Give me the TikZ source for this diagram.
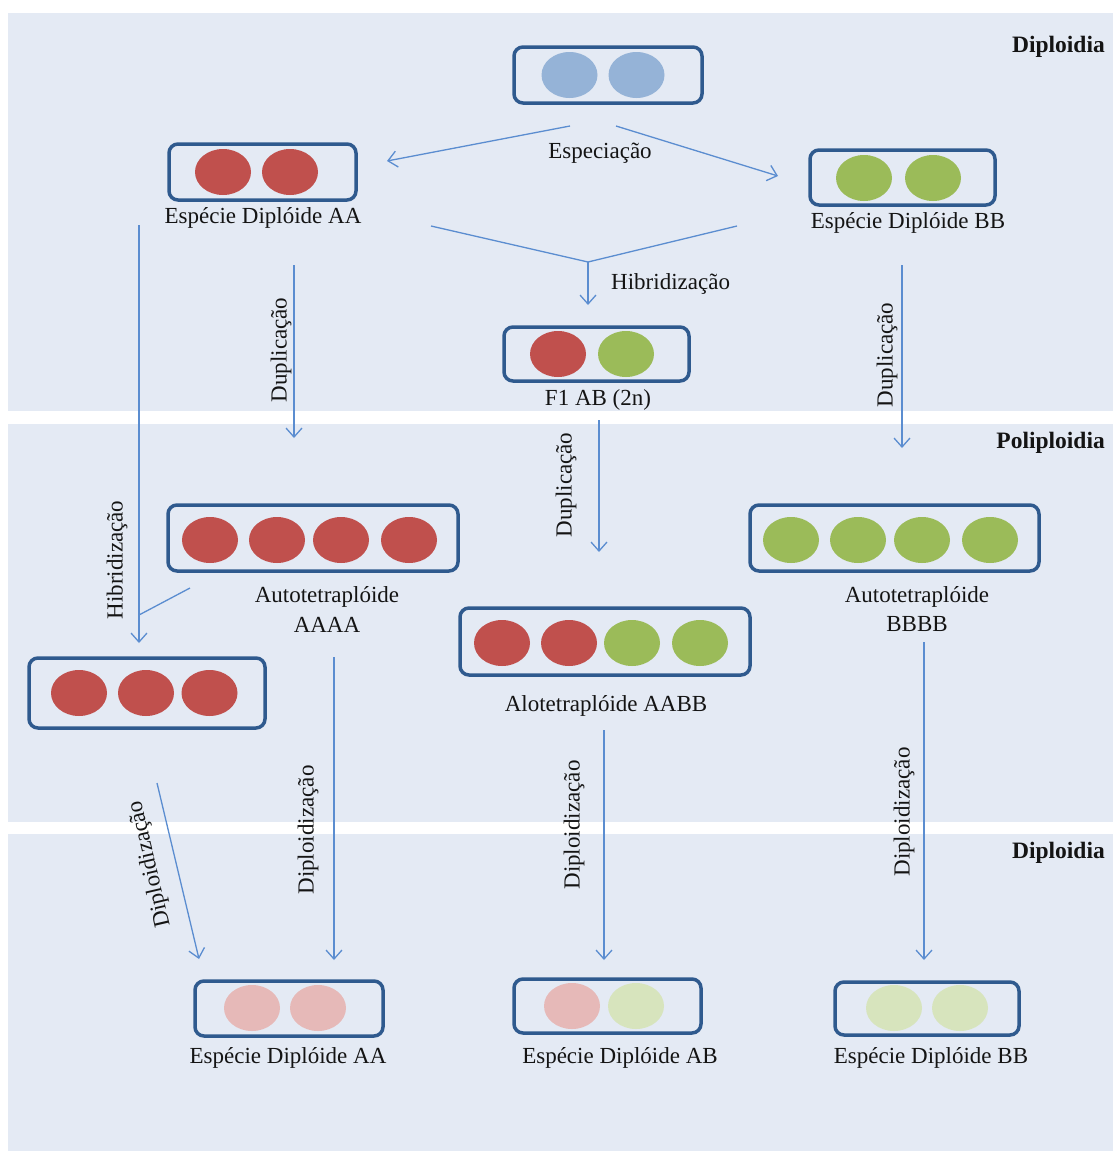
\documentclass[tikz,border=0pt]{standalone}
\usepackage{fontspec}
\setmainfont{Liberation Serif}
\usetikzlibrary{arrows.meta,shapes.geometric}
\definecolor{bandbg}{HTML}{E4EAF4}
\definecolor{boxline}{HTML}{2F5A8E}
\definecolor{arr}{HTML}{5B8DD0}
\definecolor{cred}{HTML}{C0504D}
\definecolor{cgreen}{HTML}{9BBB59}
\definecolor{cblue}{HTML}{95B3D7}
\definecolor{cpink}{HTML}{E6B9B8}
\definecolor{clgreen}{HTML}{D7E4BD}
\definecolor{txt}{HTML}{141414}
\begin{document}
\begin{tikzpicture}[x=1pt,y=-1pt,
 cellbox/.style={draw=boxline, line width=3.5pt, rounded corners=9pt, inner sep=0pt},
 chrom/.style={ellipse, inner sep=0pt, minimum width=56pt, minimum height=46pt},
 lab/.style={font=\fontsize{23}{25}\selectfont, text=txt, inner sep=0pt},
 bandlab/.style={font=\fontsize{23.5}{25}\selectfont\bfseries, text=txt, inner sep=0pt, anchor=east},
 flow/.style={draw=arr, line width=1.3pt, -{Straight Barb[length=9pt,width=16pt,line width=1.3pt]}},
 plain/.style={draw=arr, line width=1.3pt}]

\fill[white] (0,0) rectangle (1113,1151);
\useasboundingbox (0,0) rectangle (1113,1151);
\fill[bandbg] (8,13) rectangle (1113,411);
\fill[bandbg] (8,424) rectangle (1113,822);
\fill[bandbg] (8,834) rectangle (1113,1151);

% band labels
\node[bandlab] (bl1) at (1105,47) {Diploidia};
\node[bandlab] (bl2) at (1105,443) {Poliploidia};
\node[bandlab] (bl3) at (1105,853) {Diploidia};

% boxes
\node[cellbox, minimum width=188pt, minimum height=56pt] (top) at (608,75) {};
\node[chrom, fill=cblue] (top1) at (569.5,75) {};
\node[chrom, fill=cblue] (top2) at (636.5,75) {};

\node[cellbox, minimum width=187pt, minimum height=56pt] (aa) at (262.5,172) {};
\node[chrom, fill=cred] (aa1) at (223,172) {};
\node[chrom, fill=cred] (aa2) at (290,172) {};
\node[lab] (aal) at (263,218) {Espécie Diplóide AA};

\node[cellbox, minimum width=185pt, minimum height=55pt] (bb) at (902.5,177.5) {};
\node[chrom, fill=cgreen] (bb1) at (864,178) {};
\node[chrom, fill=cgreen] (bb2) at (933,178) {};
\node[lab] (bbl) at (908,223) {Espécie Diplóide BB};

\node[cellbox, minimum width=185pt, minimum height=54pt] (f1) at (596.5,354) {};
\node[chrom, fill=cred] (f1a) at (558,354) {};
\node[chrom, fill=cgreen] (f1b) at (626,354) {};
\node[lab] (f1l) at (598,400) {F1 AB (2n)};

\node[cellbox, minimum width=290pt, minimum height=66pt] (aaaa) at (313,538) {};
\foreach \x [count=\i] in {210,277,341,409} \node[chrom, fill=cred] (aaaa\i) at (\x,540) {};
\node[lab] (aaaal1) at (327,597) {Autotetraplóide};
\node[lab] (aaaal2) at (327,625) {AAAA};

\node[cellbox, minimum width=289pt, minimum height=66pt] (bbbb) at (894.5,538) {};
\foreach \x [count=\i] in {791,858,922,990} \node[chrom, fill=cgreen] (bbbb\i) at (\x,540) {};
\node[lab] (bbbbl1) at (917,597) {Autotetraplóide};
\node[lab] (bbbbl2) at (917,624) {BBBB};

\node[cellbox, minimum width=290pt, minimum height=67pt] (aabb) at (605,641.5) {};
\node[chrom, fill=cred] (aabb1) at (502,643) {};
\node[chrom, fill=cred] (aabb2) at (569,643) {};
\node[chrom, fill=cgreen] (aabb3) at (632,643) {};
\node[chrom, fill=cgreen] (aabb4) at (700,643) {};
\node[lab] (aabbl) at (606,706) {Alotetraplóide AABB};

\node[cellbox, minimum width=236pt, minimum height=70pt] (aaa) at (147,693) {};
\foreach \x [count=\i] in {79,146,209.5} \node[chrom, fill=cred] (aaa\i) at (\x,693) {};

\node[cellbox, minimum width=188pt, minimum height=55pt] (daa) at (289,1008.5) {};
\node[chrom, fill=cpink] (daa1) at (252,1008) {};
\node[chrom, fill=cpink] (daa2) at (318,1008) {};
\node[lab] (daal) at (288,1058) {Espécie Diplóide AA};

\node[cellbox, minimum width=187pt, minimum height=54pt] (dab) at (607.5,1006) {};
\node[chrom, fill=cpink] (dab1) at (572,1006) {};
\node[chrom, fill=clgreen] (dab2) at (636,1006) {};
\node[lab] (dabl) at (620,1058) {Espécie Diplóide AB};

\node[cellbox, minimum width=184pt, minimum height=53pt] (dbb) at (927,1008.5) {};
\node[chrom, fill=clgreen] (dbb1) at (894,1008) {};
\node[chrom, fill=clgreen] (dbb2) at (960,1008) {};
\node[lab] (dbbl) at (931,1058) {Espécie Diplóide BB};

% coordinates for connectors
\coordinate (e1s) at (570,126); \coordinate (e1t) at (387,161);
\coordinate (e2s) at (616,126); \coordinate (e2t) at (778,176);
\coordinate (h1) at (431,226); \coordinate (h2) at (737,226);
\coordinate (hj) at (588,262); \coordinate (ht) at (588,305);
\coordinate (d1s) at (294,265); \coordinate (d1t) at (294,438);
\coordinate (d2s) at (902,265); \coordinate (d2t) at (902,448);
\coordinate (d3s) at (599,420); \coordinate (d3t) at (599,552);
\coordinate (l1s) at (139,225); \coordinate (l1t) at (139,643);
\coordinate (l2s) at (190,588); \coordinate (l2j) at (139,615);
\coordinate (p1s) at (157,783); \coordinate (p1t) at (199,959);
\coordinate (p2s) at (334,657); \coordinate (p2t) at (334,960);
\coordinate (p3s) at (604,730); \coordinate (p3t) at (604,960);
\coordinate (p4s) at (924,642); \coordinate (p4t) at (924,960);

% connectors
\draw[flow] (e1s) -- (e1t);
\draw[flow] (e2s) -- (e2t);
\node[lab] (espl) at (600,153) {Especiação};

\draw[plain] (h1) -- (hj) -- (h2);
\draw[flow] (hj) -- (ht);
\node[lab, anchor=west] (hibl) at (611,284) {Hibridização};

\draw[flow] (d1s) -- (d1t);
\node[lab, rotate=90] (dup1) at (281,350) {Duplicação};
\draw[flow] (d2s) -- (d2t);
\node[lab, rotate=90] (dup2) at (887,355) {Duplicação};
\draw[flow] (d3s) -- (d3t);
\node[lab, rotate=90] (dup3) at (566,485) {Duplicação};

\draw[flow] (l1s) -- (l1t);
\draw[plain] (l2s) -- (l2j);
\node[lab, rotate=90] (hib2) at (117,560) {Hibridização};

\draw[flow] (p1s) -- (p1t);
\node[lab, rotate=103] (dip1) at (150,864) {Diploidização};
\draw[flow] (p2s) -- (p2t);
\node[lab, rotate=90] (dip2) at (308,830) {Diploidização};
\draw[flow] (p3s) -- (p3t);
\node[lab, rotate=90] (dip3) at (574,825) {Diploidização};
\draw[flow] (p4s) -- (p4t);
\node[lab, rotate=90] (dip4) at (904,812) {Diploidização};
\end{tikzpicture}
\end{document}
